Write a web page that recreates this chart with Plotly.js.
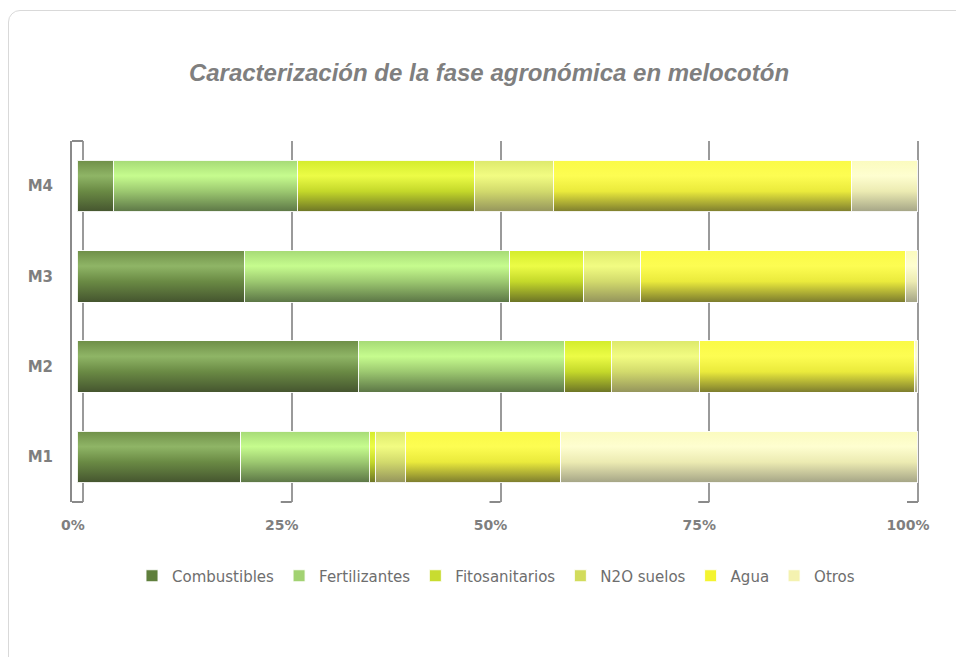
<!DOCTYPE html>
<html>
<head>
<meta charset="utf-8">
<script src="https://cdn.plot.ly/plotly-3.0.1.min.js"></script>
<style>
  html, body { margin: 0; padding: 0; background: #ffffff; overflow: hidden; }
  #wrap { position: relative; width: 956px; height: 657px; }
  #chart { position: absolute; left: 0; top: 0; width: 956px; height: 657px; }
  #frame { position: absolute; left: 8px; top: 10px; width: 960px; height: 665px;
           border: 1px solid #d9d9d9; border-radius: 12px; pointer-events: none; box-sizing: border-box; }
</style>
</head>
<body>
<div id="wrap">
  <div id="chart"></div>
  <div id="frame"></div>
</div>
<script>
// ---- data (percentages) ----
const categories = ['M1', 'M2', 'M3', 'M4'];
const seriesNames = ['Combustibles', 'Fertilizantes', 'Fitosanitarios', 'N2O suelos', 'Agua', 'Otros'];
const combustibles   = [19.5, 33.5, 19.9, 4.3];
const fertilizantes  = [15.3, 24.5, 31.6, 21.9];
const fitosanitarios = [0.7, 5.6, 8.8, 21.1];
const n2oSuelos      = [3.6, 10.5, 6.8, 9.4];
const agua           = [18.5, 25.6, 31.5, 35.5];
const otros          = [42.4, 0.3, 1.4, 7.8];
const tickValues = [0, 25, 50, 75, 100];
const tickLabels = ['0%', '25%', '50%', '75%', '100%'];

// ---- styles ----
const baseColors = ['#5f7f3c', '#a2d272', '#c8dc30', '#d2dc5c', '#f4f430', '#f4f2b0'];
const gradStops = [
  ['#6f8f48', '#8fb566', '#6a8a44', '#45552f'],
  ['#a6da76', '#c6fc8e', '#9cc870', '#5c7646'],
  ['#d4ec2c', '#ecfc46', '#c4d82a', '#6c7426'],
  ['#dde96c', '#f2fc82', '#d2da6c', '#94945c'],
  ['#fafa46', '#fdfd52', '#eaea3c', '#7c7c2e'],
  ['#fbfbbe', '#fefed0', '#ecebb2', '#a4a486']
];

const seriesValues = [combustibles, fertilizantes, fitosanitarios, n2oSuelos, agua, otros];

const traces = seriesValues.map((vals, i) => ({
  type: 'bar',
  orientation: 'h',
  name: seriesNames[i],
  y: categories,
  x: vals,
  marker: { color: baseColors[i], line: { color: 'rgba(255,255,255,0.9)', width: 1 } },
  hoverinfo: 'skip'
}));

// helper trace so the grid/label axis is drawn
traces.push({
  type: 'scatter', mode: 'none', x: [0], y: ['M1'],
  xaxis: 'x2', yaxis: 'y', showlegend: false, hoverinfo: 'skip'
});

const grey = '#7f7f7f';
const wallDepth = 1.317; // 3D wall offset, in grid-axis units

// floor / wall edge decorations of the pseudo-3D frame
const shapes = [];
tickValues.forEach(v => {
  shapes.push({ type: 'line', xref: 'x2', yref: 'paper', x0: v - wallDepth, x1: v, y0: 0, y1: 0,
                line: { color: '#8a8a8a', width: 2 } });
});
shapes.push({ type: 'line', xref: 'x2', yref: 'paper', x0: -wallDepth, x1: 0, y0: 1, y1: 1,
              line: { color: '#8a8a8a', width: 2 } });

const layout = {
  width: 956,
  height: 657,
  paper_bgcolor: '#ffffff',
  plot_bgcolor: 'rgba(0,0,0,0)',
  margin: { l: 72, r: 36, t: 141, b: 155 },
  barmode: 'stack',
  bargap: 0.43,
  showlegend: true,
  shapes: shapes,
  title: {
    text: 'Caracterización de la fase agronómica en melocotón',
    x: 489 / 956, xref: 'container', xanchor: 'center',
    y: 1 - 73 / 657, yref: 'container', yanchor: 'middle',
    font: { family: 'Liberation Sans, Arial, sans-serif', size: 24, color: grey, weight: 'bold', style: 'italic' }
  },
  xaxis: {
    range: [-0.595, 100.357],
    showgrid: false, zeroline: false, showticklabels: false, showline: false, ticks: '',
    fixedrange: true
  },
  xaxis2: {
    overlaying: 'x', anchor: 'y', side: 'bottom',
    range: [-1.317, 100.24],
    tickmode: 'array', tickvals: tickValues, ticktext: tickLabels,
    showgrid: true, gridcolor: '#9a9a9a', gridwidth: 2,
    zeroline: false, showline: false, ticks: '',
    ticklabelshift: -10, ticklabelstandoff: 13,
    tickfont: { family: 'DejaVu Sans, sans-serif', size: 14, color: grey, weight: 'bold' },
    fixedrange: true
  },
  yaxis: {
    type: 'category',
    categoryorder: 'array', categoryarray: categories,
    range: [-0.5, 3.5],
    showgrid: false, zeroline: false,
    showline: true, linecolor: '#8a8a8a', linewidth: 2,
    ticks: '', ticklabelstandoff: 14,
    tickfont: { family: 'DejaVu Sans, sans-serif', size: 15, color: grey, weight: 'bold' },
    fixedrange: true
  },
  legend: {
    orientation: 'h',
    x: 0.5, xanchor: 'center', xref: 'paper',
    y: 1 - 576 / 657, yanchor: 'middle', yref: 'container',
    traceorder: 'normal',
    font: { family: 'DejaVu Sans, sans-serif', size: 15, color: '#6e6e6e' },
    itemwidth: 30,
    bgcolor: 'rgba(0,0,0,0)'
  }
};

Plotly.newPlot('chart', traces, layout, { staticPlot: true, displayModeBar: false }).then(gd => {
  // add vertical gradients to the bars to mimic the glossy look
  const svg = gd.querySelector('.main-svg');
  let defs = svg.querySelector('defs');
  if (!defs) { defs = document.createElementNS('http://www.w3.org/2000/svg', 'defs'); svg.insertBefore(defs, svg.firstChild); }
  const offs = [0, 0.3, 0.6, 1];
  gradStops.forEach((stops, i) => {
    const g = document.createElementNS('http://www.w3.org/2000/svg', 'linearGradient');
    g.setAttribute('id', 'bargrad' + i);
    g.setAttribute('x1', '0'); g.setAttribute('y1', '0');
    g.setAttribute('x2', '0'); g.setAttribute('y2', '1');
    stops.forEach((c, k) => {
      const s = document.createElementNS('http://www.w3.org/2000/svg', 'stop');
      s.setAttribute('offset', offs[k]);
      s.setAttribute('stop-color', c);
      g.appendChild(s);
    });
    defs.appendChild(g);
  });
  const groups = gd.querySelectorAll('.barlayer .trace');
  groups.forEach((tg, i) => {
    if (i >= gradStops.length) return;
    tg.querySelectorAll('path').forEach(p => { p.style.fill = 'url(#bargrad' + i + ')'; });
  });
});
</script>
</body>
</html>
